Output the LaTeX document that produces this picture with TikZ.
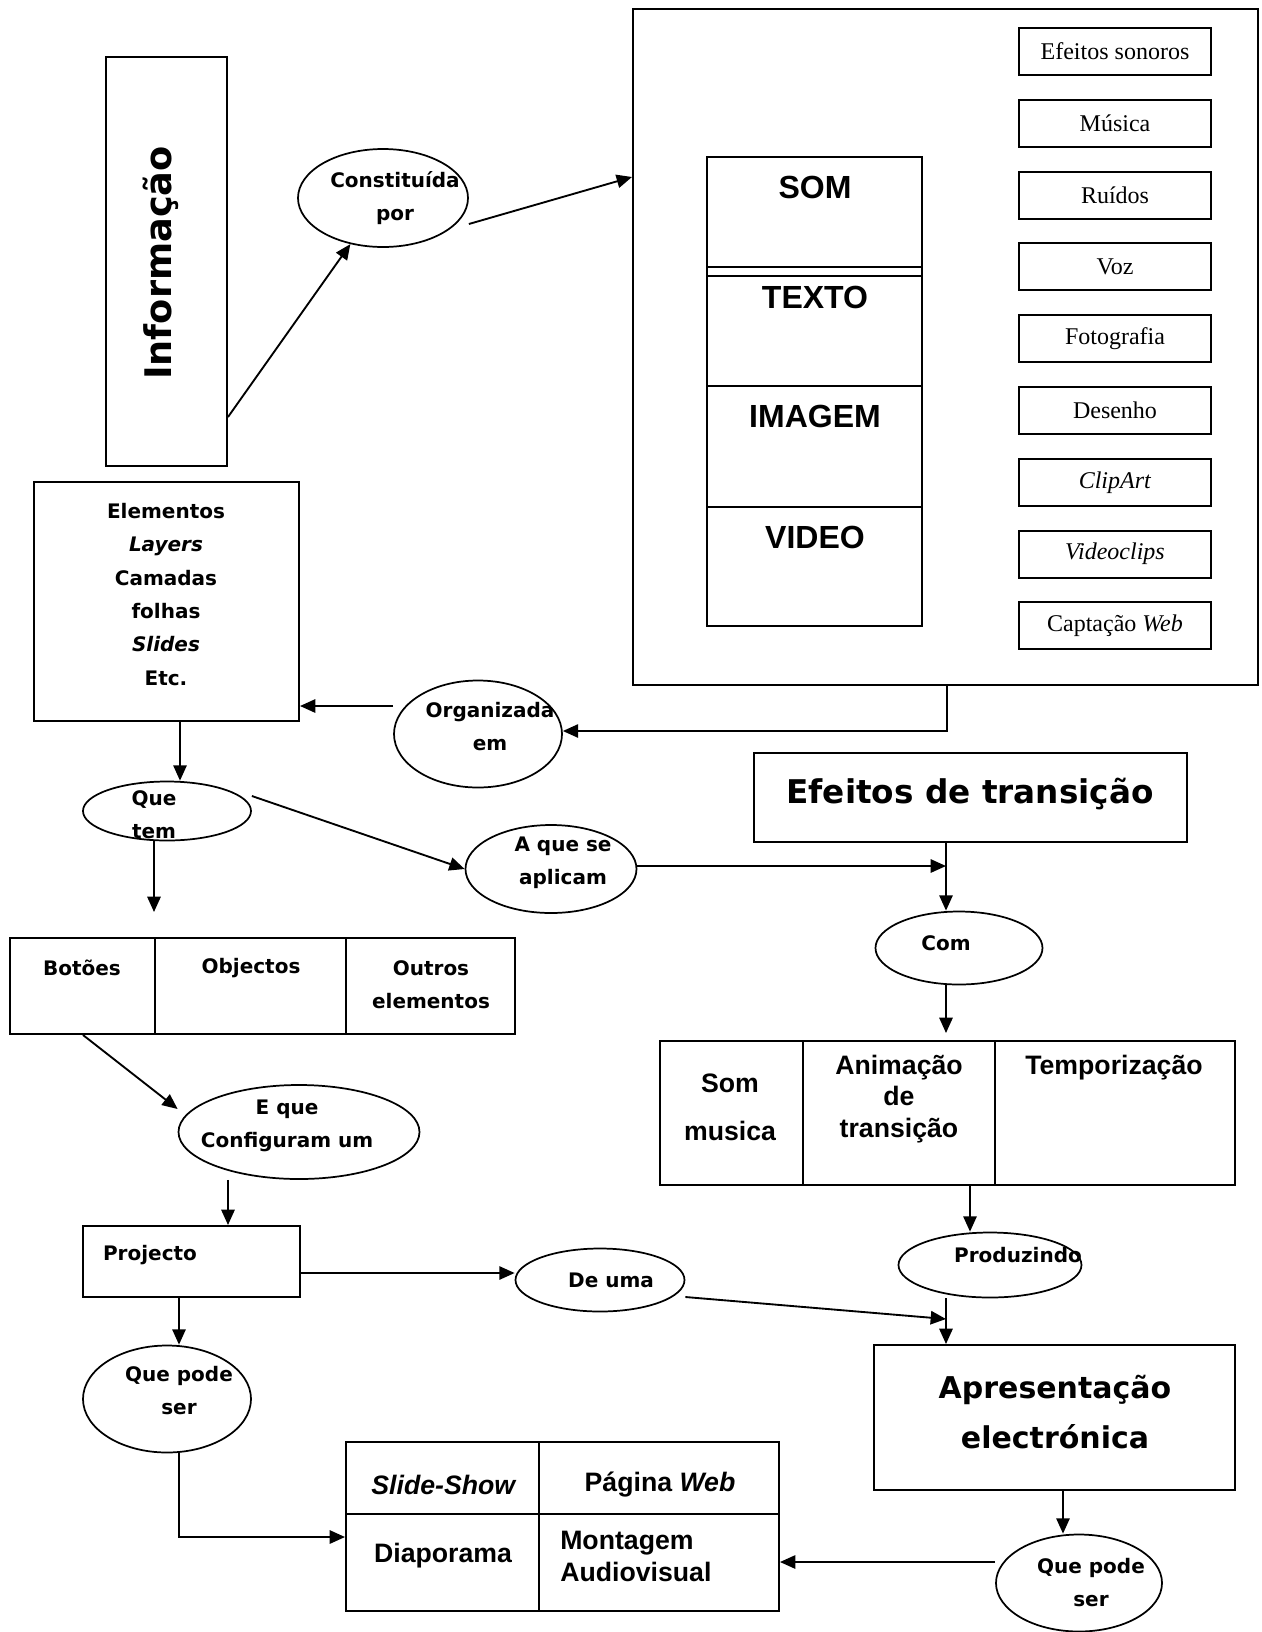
\documentclass[tikz,border=0pt]{standalone}
\usepackage{fontspec}
\setmainfont{Liberation Serif}
\newfontfamily\headsans{Liberation Sans}
\newfontfamily\roundsans{DejaVu Sans}
\usetikzlibrary{arrows.meta,shapes.geometric,fit}

\tikzset{
  lbox/.style={draw, line width=1.5pt, rectangle, inner sep=0pt},
  loval/.style={draw, line width=1.3pt, ellipse, inner sep=0pt},
  larrow/.style={line width=1.4pt, -{Triangle[length=11.5pt,width=10pt]}},
  lline/.style={line width=1.5pt},
  ctext/.style={font=\roundsans\bfseries\fontsize{15}{24.75}\selectfont, align=center, inner sep=0pt},
  bigtext/.style={font=\roundsans\bfseries\fontsize{24.5}{37.5}\selectfont, align=center, inner sep=0pt},
  atext/.style={font=\headsans\bfseries\fontsize{20}{23.6}\selectfont, align=center, inner sep=0pt},
  mediatext/.style={font=\headsans\bfseries\fontsize{24}{28}\selectfont, inner sep=0pt},
  ttext/.style={font=\fontsize{18}{21}\selectfont, inner sep=0pt},
}

\begin{document}
\begin{tikzpicture}[x=0.75pt, y=-0.75pt]
\useasboundingbox (0,0) rectangle (1261,1632);

% ---------- Informação ----------
\node[lbox, fit={(106,57) (227,466)}] (info) {};
\node[rotate=90, font=\roundsans\bfseries\fontsize{27.5}{30}\selectfont, inner sep=0pt] (infotext) at (161,263) {Informação};

\node[loval, minimum width=127.5pt, minimum height=73.5pt] (cons) at (383,198) {};
\node[ctext] (constext) at (395,198) {Constituída\\por};

% ---------- media frame ----------
\node[lbox, fit={(633,9) (1258,685)}] (media) {};
\node[lbox, fit={(707,157) (922,626)}] (stack) {};
\coordinate (s1) at (0,267);
\coordinate (s2) at (0,276);
\coordinate (s3) at (0,386);
\coordinate (s4) at (0,507);
\foreach \s in {s1,s2,s3,s4}
  \draw[lline] (stack.west |- \s) -- (stack.east |- \s);
\node[mediatext] (som) at (815,187) {SOM};
\node[mediatext] (texto) at (815,297) {TEXTO};
\node[mediatext] (imagem) at (815,416) {IMAGEM};
\node[mediatext] (video) at (815,537) {VIDEO};

\node[lbox, fit={(1019,28) (1211,75)}] (r1) {};
\node[lbox, fit={(1019,99.8) (1211,146.8)}] (r2) {};
\node[lbox, fit={(1019,171.6) (1211,218.6)}] (r3) {};
\node[lbox, fit={(1019,243.4) (1211,290.4)}] (r4) {};
\node[lbox, fit={(1019,315.2) (1211,362.2)}] (r5) {};
\node[lbox, fit={(1019,387) (1211,434)}] (r6) {};
\node[lbox, fit={(1019,458.8) (1211,505.8)}] (r7) {};
\node[lbox, fit={(1019,530.6) (1211,577.6)}] (r8) {};
\node[lbox, fit={(1019,602.4) (1211,649.4)}] (r9) {};
\node[ttext] (r1t) at (r1.center) {Efeitos sonoros};
\node[ttext] (r2t) at (r2.center) {Música};
\node[ttext] (r3t) at (r3.center) {Ruídos};
\node[ttext] (r4t) at (r4.center) {Voz};
\node[ttext] (r5t) at (r5.center) {Fotografia};
\node[ttext] (r6t) at (r6.center) {Desenho};
\node[ttext] (r7t) at (r7.center) {\textit{ClipArt}};
\node[ttext] (r8t) at (r8.center) {\textit{Videoclips}};
\node[ttext] (r9t) at (r9.center) {Captação \textit{Web}};

% ---------- Elementos ----------
\node[lbox, fit={(34,482) (299,721)}] (elem) {};
\node[ctext, font=\roundsans\bfseries\fontsize{15}{25}\selectfont] (elemtext) at (166,594.5)
  {Elementos\\\textit{Layers}\\Camadas\\folhas\\\textit{Slides}\\Etc.};

\node[loval, minimum width=126pt, minimum height=80.25pt] (org) at (478,734) {};
\node[ctext] (orgtext) at (490,727) {Organizada\\em};

\node[loval, minimum width=126pt, minimum height=44.25pt] (quetem) at (167,811) {};
\node[ctext] (quetemtext) at (154,815) {Que\\tem};

\node[loval, minimum width=128.25pt, minimum height=66pt] (aquese) at (551,869) {};
\node[ctext] (aquesetext) at (563,863) {A que se\\aplicam};

% ---------- Efeitos de transição ----------
\node[lbox, fit={(754,753) (1187,842)}] (efx) {};
\node[bigtext] (efxtext) at (970,794) {Efeitos de transição};

\node[loval, minimum width=125.25pt, minimum height=54.75pt] (com) at (959,948) {};
\node[ctext] (comtext) at (946,943) {Com};

\node[lbox, fit={(660,1041) (803,1185)}] (ts1) {};
\node[lbox, fit={(803,1041) (995,1185)}] (ts2) {};
\node[lbox, fit={(995,1041) (1235,1185)}] (ts3) {};
\node[atext, font=\headsans\bfseries\fontsize{20}{36}\selectfont] (ts1t) at (730,1107) {Som\\musica};
\node[atext] (ts2t) at (899,1099) {Animação\\de\\transição};
\node[atext] (ts3t) at (1114,1068) {Temporização};

\node[loval, minimum width=137.25pt, minimum height=48.75pt] (prod) at (990,1265) {};
\node[ctext] (prodtext) at (1018,1255) {Produzindo};

% ---------- Botões / Objectos / Outros ----------
\node[lbox, fit={(10,938) (155,1034)}] (tb1) {};
\node[lbox, fit={(155,938) (346,1034)}] (tb2) {};
\node[lbox, fit={(346,938) (515,1034)}] (tb3) {};
\node[ctext] (tb1t) at (82,968) {Botões};
\node[ctext] (tb2t) at (251,968) {Objectos};
\node[ctext] (tb3t) at (431,984.5) {Outros\\elementos};

\node[loval, minimum width=180.75pt, minimum height=70.5pt] (equec) at (299,1132) {};
\node[ctext] (equectext) at (287,1126) {E que\\Configuram um};

\node[lbox, fit={(83,1226) (300,1297)}] (proj) {};
\node[ctext] (projtext) at (150,1255) {Projecto};

\node[loval, minimum width=126.75pt, minimum height=47.25pt] (deuma) at (600,1280) {};
\node[ctext] (deumatext) at (611,1280) {De uma};

\node[loval, minimum width=126pt, minimum height=80.25pt] (qpl) at (167,1399) {};
\node[ctext] (qpltext) at (179,1391) {Que pode\\ser};

% ---------- Apresentação electrónica ----------
\node[lbox, fit={(874,1345) (1235,1490)}] (apres) {};
\node[bigtext, font=\roundsans\bfseries\fontsize{22.5}{37.5}\selectfont] (aprestext) at (1055,1412) {Apresentação\\electrónica};

\node[loval, minimum width=124.5pt, minimum height=72.75pt] (qpr) at (1079,1583) {};
\node[ctext] (qprtext) at (1091,1583) {Que pode\\ser};

% ---------- output formats ----------
\node[lbox, fit={(346,1442) (539,1514)}] (fp1) {};
\node[lbox, fit={(539,1442) (779,1514)}] (fp2) {};
\node[lbox, fit={(346,1514) (539,1611)}] (fp3) {};
\node[lbox, fit={(539,1514) (779,1611)}] (fp4) {};
\node[atext] (fp1t) at (444,1485) {\textit{Slide-Show}};
\node[atext] (fp2t) at (660,1485) {Página \textit{Web}};
\node[atext] (fp3t) at (443,1556) {Diaporama};
\node[atext, align=left, anchor=west, font=\headsans\bfseries\fontsize{20}{24}\selectfont] (fp4t) at (560,1556) {Montagem\\Audiovisual};

% ---------- connectors ----------
\coordinate (infoout) at (227,417);
\draw[larrow] (info.east |- infoout) -- (cons);

\coordinate (mediain) at (633,177);
\draw[larrow] ([yshift=-19.5pt]cons.east) -- (media.west |- mediain);

\coordinate (bend) at (947,731);
\draw[larrow] (media.south -| bend) -- (bend) -- (org.east |- bend);

\coordinate (orgout) at ([yshift=21pt]org.west);
\draw[larrow] (orgout) -- (elem.east |- orgout);

\coordinate (elemdown) at (180,0);
\draw[larrow] (elem.south -| elemdown) -- (quetem.north -| elemdown);

\coordinate (qtend) at (154,912);
\draw[larrow] (quetem.south -| qtend) -- (qtend);

\draw[larrow] ([yshift=11.25pt]quetem.east) -- (aquese.west);

\coordinate (join1) at (946,866);
\draw[larrow] (aquese.east |- join1) -- (join1);

\draw[larrow] (efx.south -| join1) -- (com.north -| join1);

\coordinate (comend) at (946,1033);
\draw[larrow] (com.south -| comend) -- (comend);

\coordinate (tabdown) at (970,0);
\draw[larrow] (ts2.south -| tabdown) -- (prod.north -| tabdown);

\coordinate (proddown) at (946,0);
\draw[larrow] (prod.south -| proddown) -- (apres.north -| proddown);

\coordinate (join2) at (946,1319);
\draw[larrow] ([yshift=-12.75pt]deuma.east) -- (join2);

\coordinate (projout) at (0,1273);
\draw[larrow] (proj.east |- projout) -- (deuma.west |- projout);

\coordinate (btnout) at (83,0);
\draw[larrow] (tb1.south -| btnout) -- ([yshift=17.25pt]equec.west);

\coordinate (eqdown) at (228,0);
\draw[larrow] (equec.south -| eqdown) -- (proj.north -| eqdown);

\coordinate (projdown) at (179,0);
\draw[larrow] (proj.south -| projdown) -- (qpl.north -| projdown);

\coordinate (qplbend) at (179,1537);
\draw[larrow] (qpl.south -| qplbend) -- (qplbend) -- (fp3.west |- qplbend);

\coordinate (apresdown) at (1063,0);
\draw[larrow] (apres.south -| apresdown) -- (qpr.north -| apresdown);

\coordinate (qprout) at ([yshift=15.75pt]qpr.west);
\draw[larrow] (qprout) -- (fp4.east |- qprout);

\end{tikzpicture}
\end{document}
